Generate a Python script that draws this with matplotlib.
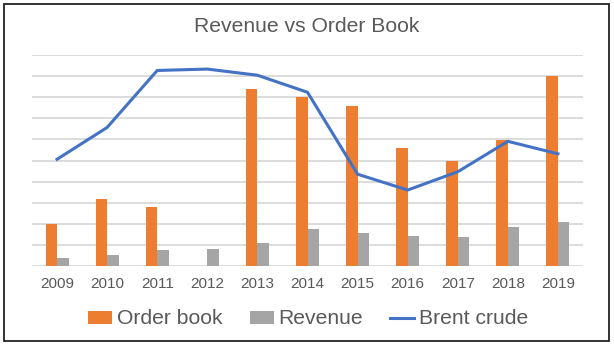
import matplotlib
matplotlib.use("Agg")
import matplotlib.pyplot as plt
from matplotlib.patches import Rectangle
import numpy as np

years = ["2009", "2010", "2011", "2012", "2013", "2014", "2015", "2016", "2017", "2018", "2019"]
order_book = [2.0, 3.16, 2.78, 0.0, 8.37, 8.0, 7.58, 5.58, 4.98, 5.97, 8.99]
revenue = [0.36, 0.50, 0.74, 0.79, 1.07, 1.74, 1.55, 1.41, 1.36, 1.83, 2.07]
brent = [60.7, 78.8, 111.2, 112.0, 108.5, 98.8, 52.2, 43.2, 53.6, 70.9, 63.8]

plt.rcParams['font.family'] = ['Liberation Sans', 'DejaVu Sans']
TXT = '#595959'
ORANGE = '#ED7D31'
GRAY = '#A5A5A5'
BLUE = '#4472C4'
GRID = '#D9D9D9'

W, H = 614, 346
fig = plt.figure(figsize=(W / 100, H / 100), dpi=100)

left, right, top, bottom = 32, 583, 55, 266
ax = fig.add_axes([left / W, 1 - bottom / H, (right - left) / W, (bottom - top) / H])

x = np.arange(len(years))
bw = 0.23
ax.set_xlim(-0.5, len(years) - 0.5)
ax.set_ylim(0, 10)
ax.set_yticks(np.arange(0, 11, 1))
for yv in np.arange(0, 11, 1):
    ax.axhline(yv, color=GRID, linewidth=1.3, zorder=1)
b1 = ax.bar(x - bw / 2, order_book, width=bw, color=ORANGE, label='Order book', zorder=3)
b2 = ax.bar(x + bw / 2, revenue, width=bw, color=GRAY, label='Revenue', zorder=3)
ax.set_xticks(x)
ax.set_xticklabels(years, fontsize=11, color=TXT)
for s in ax.spines.values():
    s.set_visible(False)

ax2 = ax.twinx()
ax2.set_ylim(0, 120)
l1, = ax2.plot(x, brent, color=BLUE, linewidth=2.2, label='Brent crude', zorder=4)
for s in ax2.spines.values():
    s.set_visible(False)
ax2.set_yticks([])
ax.tick_params(axis='y', left=False, right=False, labelleft=False, labelright=False)
ax.tick_params(axis='x', length=0, pad=8)

fig.text(307 / W, 1 - 27 / H, 'Revenue vs Order Book', ha='center', va='center',
         fontsize=15.2, color=TXT)

leg = fig.legend([b1, b2, l1], ['Order book', 'Revenue', 'Brent crude'],
                 loc='center', bbox_to_anchor=(308 / W, 1 - 319 / H), ncol=3,
                 frameon=False, fontsize=15.2, handlelength=1.15, handleheight=0.57,
                 handletextpad=0.2, columnspacing=1.3, labelcolor=TXT)

fig.patches.append(Rectangle((3.5 / W, 1 - 341 / H), (609 - 3.5) / W, (341 - 4) / H,
                             transform=fig.transFigure, fill=False,
                             edgecolor='#222222', linewidth=1.3))

fig.savefig('out.png', dpi=100)
